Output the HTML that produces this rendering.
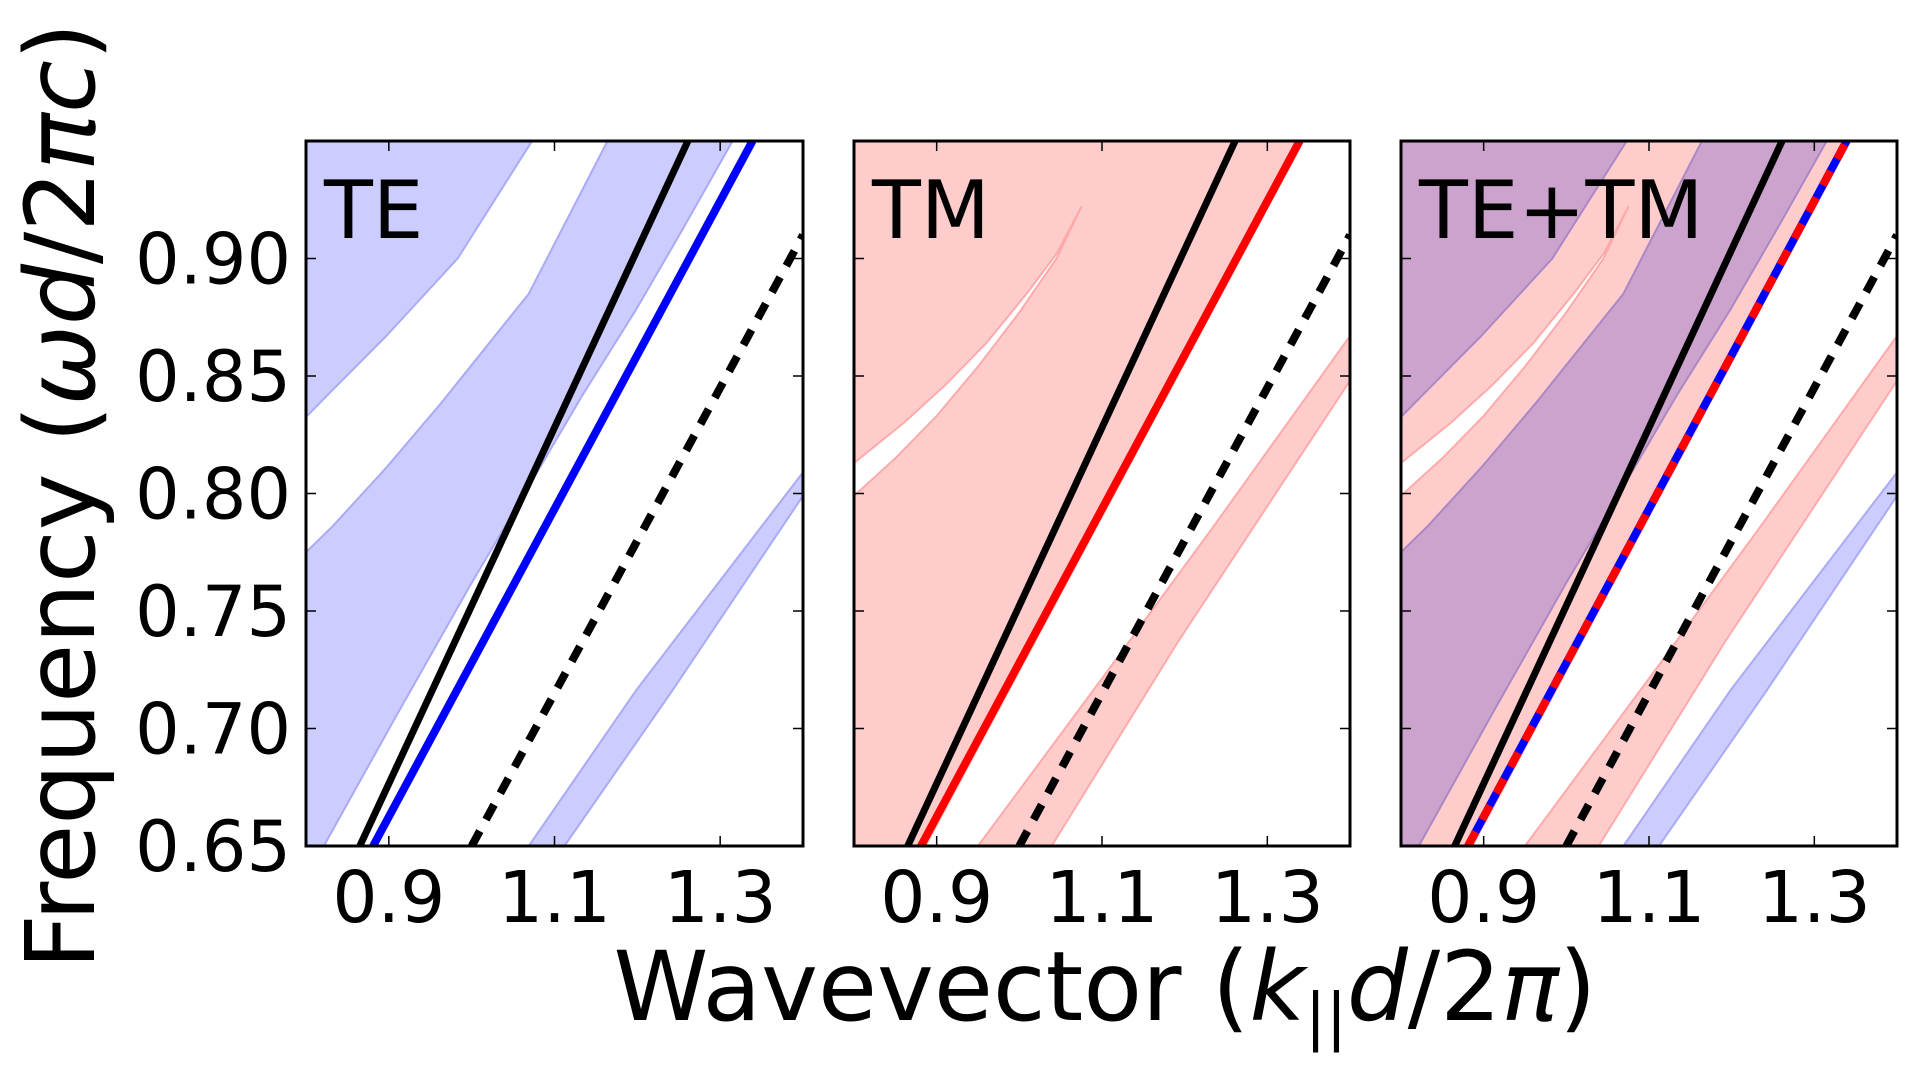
<!DOCTYPE html>
<html><head><meta charset="utf-8">
<style>
html,body{margin:0;padding:0;background:#fff;}
svg{display:block;}
text{font-family:"DejaVu Sans","Liberation Sans",sans-serif;fill:#000;}
</style></head>
<body>
<svg id="chart" width="1920" height="1067" viewBox="0 0 1920 1067" xmlns="http://www.w3.org/2000/svg">
<defs>
<clipPath id="c0"><rect x="306" y="141" width="497" height="705"/></clipPath>
<clipPath id="c1"><rect x="854" y="141" width="496" height="705"/></clipPath>
<clipPath id="c2"><rect x="1401" y="141" width="496" height="705"/></clipPath>
</defs>
<g id="layer"></g>
<text transform="translate(94,496) rotate(-90)" text-anchor="middle" font-size="96">Frequency (<tspan font-style="italic">ωd</tspan>/2<tspan font-style="italic">πc</tspan>)</text>
<text x="1105" y="1020" text-anchor="middle" font-size="96">Wavevector (<tspan font-style="italic">k</tspan><tspan font-size="62" dy="18">||</tspan><tspan font-style="italic" dy="-18">d</tspan>/2<tspan font-style="italic">π</tspan>)</text>
</svg>
<script>
// axis domains
const kDomain = [0.8, 1.4];
const wDomain = [0.65, 0.95];
const xTicks = [0.9, 1.1, 1.3];
const xTickLabels = ["0.9", "1.1", "1.3"];
const yTicks = [0.65, 0.70, 0.75, 0.80, 0.85, 0.90];
const yTickLabels = ["0.65", "0.70", "0.75", "0.80", "0.85", "0.90"];
const panelNames = ["TE", "TM", "TE+TM"];

// light lines (k, omega)
const blackLineK = [0.865, 1.261];
const blackLineW = [0.65, 0.95];
const guidedLineK = [0.881, 1.339];
const guidedLineW = [0.65, 0.95];
const dashLineK = [1.0, 1.4];
const dashLineW = [0.65, 0.91];

// TE bands
const teBandAK = [0.8, 0.8, 0.832, 0.897, 0.983, 1.073];
const teBandAW = [0.95, 0.8326, 0.844, 0.867, 0.90, 0.95];
const teBandBK = [0.8, 0.832, 0.897, 0.962, 1.069, 1.164, 1.315, 1.254, 1.198, 1.134, 1.069, 1.0, 0.91, 0.8215, 0.8];
const teBandBW = [0.775, 0.786, 0.811, 0.838, 0.885, 0.95, 0.95, 0.912, 0.878, 0.842, 0.803, 0.762, 0.706, 0.65, 0.65];
const teBandCK = [1.069, 1.198, 1.40, 1.40, 1.242, 1.112];
const teBandCW = [0.65, 0.716, 0.809, 0.799, 0.716, 0.65];

// TM bands
const tmMainK = [0.8, 0.8, 0.888, 1.345];
const tmMainW = [0.95, 0.65, 0.65, 0.95];
const tmGapK = [0.8, 0.86, 0.91, 0.96, 1.011, 1.045, 1.075, 1.045, 1.0, 0.95, 0.90, 0.85, 0.8];
const tmGapW = [0.813, 0.830, 0.846, 0.864, 0.886, 0.902, 0.922, 0.900, 0.877, 0.854, 0.833, 0.815, 0.799];
const tmLowK = [0.950, 1.112, 1.233, 1.40, 1.40, 1.192, 1.039];
const tmLowW = [0.65, 0.727, 0.785, 0.867, 0.848, 0.737, 0.65];

const panels = [{x0:306,x1:803},{x0:854,x1:1350},{x0:1401,x1:1897}];
const Y0 = 141, Y1 = 846;
const NS = "http://www.w3.org/2000/svg";
const layer = document.getElementById('layer');

function xs(p, k){ return p.x0 + (k - kDomain[0])/(kDomain[1]-kDomain[0])*(p.x1-p.x0); }
function ys(w){ return Y1 - (w - wDomain[0])/(wDomain[1]-wDomain[0])*(Y1-Y0); }
function el(tag, parent){ const e = document.createElementNS(NS, tag); parent.appendChild(e); return e; }
function pts(p, K, W){ return K.map((k,i)=>xs(p,k).toFixed(1)+','+ys(W[i]).toFixed(1)).join(' '); }

function poly(g, p, K, W, fill, stroke, name, blend){
  const e = el('polygon', g);
  
  
  e.setAttribute('points', pts(p, K, W));
  e.setAttribute('fill', fill);
  e.setAttribute('stroke', stroke);
  e.setAttribute('stroke-width', '2');
  e.setAttribute('stroke-linejoin', 'round');
  if (blend) e.setAttribute('style', 'mix-blend-mode:multiply');
}
function line(g, p, K, W, color, width, dash, name){
  const e = el('polyline', g);
  
  
  e.setAttribute('points', pts(p, K, W));
  e.setAttribute('fill', 'none');
  e.setAttribute('stroke', color);
  e.setAttribute('stroke-width', width);
  if (dash) e.setAttribute('stroke-dasharray', dash);
}

function drawTE(g, p, blend){
  poly(g, p, teBandAK, teBandAW, '#ccccff', '#aaaaf5', 'te-band-upper', blend);
  poly(g, p, teBandBK, teBandBW, '#ccccff', '#aaaaf5', 'te-band-main', blend);
  poly(g, p, teBandCK, teBandCW, '#ccccff', '#aaaaf5', 'te-band-lower', blend);
}
function drawTM(g, p){
  poly(g, p, tmMainK, tmMainW, '#ffcccc', 'none', 'tm-band-main', false);
  poly(g, p, tmGapK, tmGapW, '#ffffff', '#ffaaaa', 'tm-gap', false);
  poly(g, p, tmLowK, tmLowW, '#ffcccc', '#ffaaaa', 'tm-band-lower', false);
}

panels.forEach((p, i) => {
  const g = el('g', layer);
  
  
  const plot = el('g', g);
  plot.setAttribute('clip-path', 'url(#c' + i + ')');
  
  
  if (i === 0) drawTE(plot, p, false);
  if (i === 1) drawTM(plot, p);
  if (i === 2) { drawTM(plot, p); drawTE(plot, p, true); }
  line(plot, p, blackLineK, blackLineW, '#000', 7, null, 'light-line-cladding');
  if (i === 0) line(plot, p, guidedLineK, guidedLineW, '#0000ff', 8, null, 'te-guided-mode');
  if (i === 1) line(plot, p, guidedLineK, guidedLineW, '#ff0000', 8, null, 'tm-guided-mode');
  if (i === 2) { line(plot, p, guidedLineK, guidedLineW, '#0000ff', 8, null, 'te-guided-mode');
                 line(plot, p, guidedLineK, guidedLineW, '#ff0000', 8, '16 14', 'tm-guided-mode-dashed'); }
  line(plot, p, dashLineK, dashLineW, '#000', 8, '17 13', 'light-line-dashed');

  xTicks.forEach((t, j) => {
    const x = xs(p, t);
    [[Y1, Y1-10],[Y0, Y0+10]].forEach(([a,b]) => {
      const tk = el('line', g);
      
      
      tk.setAttribute('x1', x); tk.setAttribute('x2', x); tk.setAttribute('y1', a); tk.setAttribute('y2', b);
      tk.setAttribute('stroke', '#000'); tk.setAttribute('stroke-width', '1.5');
    });
    const tl = el('text', g);
    
    
    tl.setAttribute('x', x); tl.setAttribute('y', 922);
    tl.setAttribute('text-anchor', 'middle'); tl.setAttribute('font-size', '71');
    tl.textContent = xTickLabels[j];
  });
  yTicks.forEach((t, j) => {
    const y = ys(t);
    [[p.x0, p.x0+10],[p.x1, p.x1-10]].forEach(([a,b]) => {
      const tk = el('line', g);
      
      
      tk.setAttribute('x1', a); tk.setAttribute('x2', b); tk.setAttribute('y1', y); tk.setAttribute('y2', y);
      tk.setAttribute('stroke', '#000'); tk.setAttribute('stroke-width', '1.5');
    });
    if (i === 0) {
      const tl = el('text', g);
      
      
      tl.setAttribute('x', 291); tl.setAttribute('y', y + 25);
      tl.setAttribute('text-anchor', 'end'); tl.setAttribute('font-size', '70');
      tl.textContent = yTickLabels[j];
    }
  });
  const fr = el('rect', g);
  
  
  fr.setAttribute('x', p.x0); fr.setAttribute('y', Y0);
  fr.setAttribute('width', p.x1 - p.x0); fr.setAttribute('height', Y1 - Y0);
  fr.setAttribute('fill', 'none'); fr.setAttribute('stroke', '#000'); fr.setAttribute('stroke-width', '3');
  const lab = el('text', g);
  
  
  lab.setAttribute('x', p.x0 + 18); lab.setAttribute('y', 238);
  lab.setAttribute('font-size', '80');
  lab.textContent = panelNames[i];
});
</script>
</body></html>
